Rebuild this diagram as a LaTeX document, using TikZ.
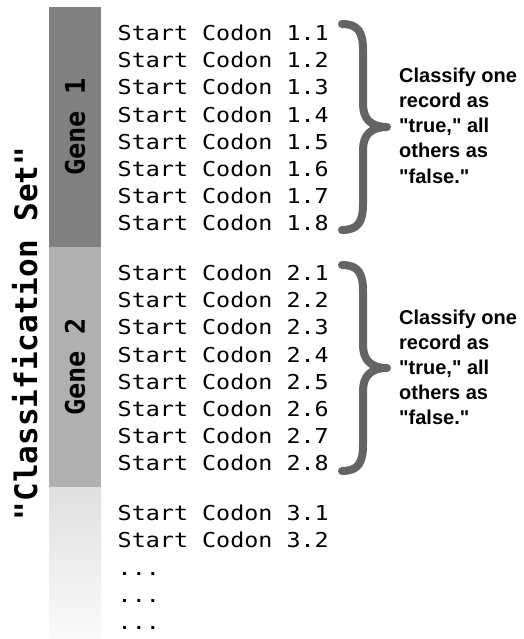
\documentclass[tikz,border=0pt]{standalone}
\usepackage{fontspec}
\setmainfont{Liberation Sans}
\newfontfamily\codefont{DejaVu Sans Mono}
\usetikzlibrary{shadings}
\definecolor{geneonefill}{HTML}{808080}
\definecolor{genetwofill}{HTML}{B0B0B0}
\definecolor{fadetop}{HTML}{E0E0E0}
\definecolor{fadebottom}{HTML}{FAFAFA}
\definecolor{bracegray}{HTML}{646464}
\tikzset{
  genebar/.style={rotate=90, minimum width=240pt, minimum height=52pt,
    inner sep=0pt, font=\codefont\bfseries\fontsize{27}{27}\selectfont},
  codonline/.style={anchor=base west, inner sep=0pt, xscale=1.14,
    font=\codefont\fontsize{20.5}{20.5}\selectfont},
  notetext/.style={anchor=base west, inner sep=0pt,
    font=\bfseries\fontsize{20}{20}\selectfont},
  curlybrace/.style={draw=bracegray, line width=8pt, line cap=round, line join=round},
}
\begin{document}
\begin{tikzpicture}[x=1pt, y=-1pt]
\useasboundingbox (0,0) rectangle (523,639);

% set label
\node[rotate=90, anchor=base, inner sep=0pt,
  font=\codefont\bfseries\fontsize{31}{31}\selectfont] (setlabel) at (37,333.5) {\textquotedbl Classification Set\textquotedbl};

% gene bars
\node[genebar, fill=geneonefill] (geneone) at (75,127) {Gene 1};
\node[genebar, fill=genetwofill] (genetwo) at (75,367) {Gene 2};
\shade[top color=fadetop, bottom color=fadebottom] (49,487) rectangle (101,638);

% codon records
\foreach \k in {1,...,8}{
  \node[codonline] (cone\k) at (117.5,{40.5+27.2*(\k-1)}) {Start Codon 1.\k};
  \node[codonline] (ctwo\k) at (117.5,{280.5+27.2*(\k-1)}) {Start Codon 2.\k};
}
\node[codonline] (cthree1) at (117.5,520.5) {Start Codon 3.1};
\node[codonline] (cthree2) at (117.5,547.7) {Start Codon 3.2};
\node[codonline] (dotsa) at (117.5,575) {...};
\node[codonline] (dotsb) at (117.5,602.2) {...};
\node[codonline] (dotsc) at (117.5,629.4) {...};

% braces
\foreach \t/\name in {0/braceone, 241/bracetwo}{
  \begin{scope}[yshift=-\t pt]
    \draw[curlybrace] (342,24) .. controls (358,24) and (363,32) .. (363,50)
      -- (363,104) .. controls (363,119) and (371,127) .. (387,127)
      .. controls (371,127) and (363,135) .. (363,150)
      -- (363,204) .. controls (363,222) and (358,230) .. (342,230);
  \end{scope}
}

% notes
\foreach \t/\name in {0/noteone, 241/notetwo}{
  \node[notetext] (\name a) at (399,{83+\t}) {Classify one};
  \node[notetext] (\name b) at (399,{108+\t}) {record as};
  \node[notetext] (\name c) at (399,{133+\t}) {\textquotedbl true,\textquotedbl{} all};
  \node[notetext] (\name d) at (399,{158+\t}) {others as};
  \node[notetext] (\name e) at (399,{183+\t}) {\textquotedbl false.\textquotedbl};
}
\end{tikzpicture}
\end{document}
